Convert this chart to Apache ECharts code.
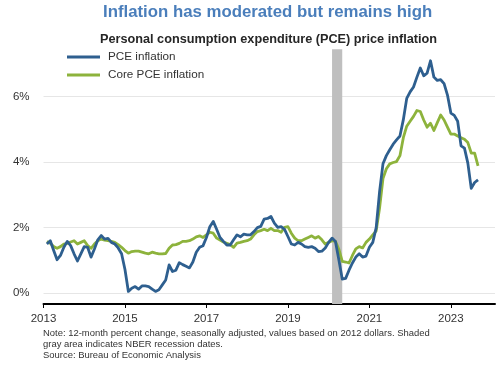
<!DOCTYPE html>
<html><head><meta charset="utf-8">
<script src="https://cdn.jsdelivr.net/npm/echarts@6/dist/echarts.min.js"></script>
<style>html,body{margin:0;padding:0;background:#fff}#c{width:500px;height:365px}</style>
</head><body><div id="c"></div>
<script>
// Monthly series, Jan 2013 .. Aug 2023 (12-month percent change)
const firstYear = 2013;
const pceInflation = [
  1.5, 1.6, 1.3, 1.02, 1.15, 1.4, 1.58, 1.45, 1.2, 0.98, 1.2, 1.42,
  1.4, 1.1, 1.35, 1.63, 1.76, 1.65, 1.67, 1.55, 1.5, 1.38, 1.2, 0.72,
  0.05, 0.15, 0.2, 0.12, 0.22, 0.22, 0.2, 0.12, 0.05, 0.1, 0.25, 0.4,
  0.86, 0.66, 0.7, 0.93, 0.87, 0.82, 0.77, 0.95, 1.25, 1.4, 1.45, 1.7,
  2.03, 2.19, 1.95, 1.7, 1.58, 1.47, 1.47, 1.63, 1.78, 1.72, 1.8, 1.78,
  1.78, 1.88, 2.0, 2.04, 2.26, 2.28, 2.34, 2.14, 2.01, 2.03, 1.95, 1.73,
  1.5, 1.47, 1.55, 1.5, 1.42, 1.4, 1.42, 1.37, 1.27, 1.28, 1.38, 1.55,
  1.68, 1.58, 1.02, 0.43, 0.45, 0.7, 0.92, 1.1, 1.2, 1.1, 1.13, 1.4,
  1.55, 2.0, 3.1, 3.95, 4.2, 4.38, 4.55, 4.68, 4.8, 5.3, 5.95, 6.15,
  6.3, 6.6, 6.88, 6.64, 6.72, 7.1, 6.6, 6.5, 6.52, 6.4, 6.05, 5.5,
  5.43, 5.25, 4.5, 4.43, 3.97, 3.2, 3.38, 3.46
];
const corePceInflation = [
  1.58, 1.52, 1.42, 1.37, 1.42, 1.5, 1.52, 1.56, 1.6, 1.5, 1.55, 1.6,
  1.45, 1.37, 1.5, 1.6, 1.65, 1.62, 1.6, 1.58, 1.55, 1.48, 1.4, 1.3,
  1.22, 1.27, 1.28, 1.28, 1.25, 1.22, 1.2, 1.25, 1.22, 1.2, 1.2, 1.21,
  1.37, 1.47, 1.48, 1.52, 1.58, 1.58, 1.6, 1.65, 1.72, 1.75, 1.7, 1.78,
  1.86, 1.83, 1.68, 1.62, 1.56, 1.52, 1.48, 1.4, 1.53, 1.55, 1.58, 1.6,
  1.65, 1.78, 1.88, 1.91, 1.95, 1.91, 1.98, 1.91, 1.91, 1.86, 2.01, 2.03,
  1.83, 1.68, 1.6, 1.6, 1.65, 1.7, 1.75, 1.68, 1.73, 1.63, 1.5, 1.55,
  1.6, 1.58, 1.34, 0.97, 0.95, 0.92, 1.15, 1.35, 1.42, 1.38, 1.55, 1.65,
  1.78, 1.9, 2.6, 3.5, 3.8, 3.95, 3.99, 4.02, 4.2, 4.75, 5.1, 5.25,
  5.4, 5.58, 5.55, 5.29, 5.07, 5.19, 4.97, 5.21, 5.44, 5.29, 5.07, 4.86,
  4.86, 4.8, 4.75, 4.7, 4.6, 4.28, 4.28, 3.89
];
const seriesNames = ['PCE inflation', 'Core PCE inflation'];
const xTickYears = [2013, 2015, 2017, 2019, 2021, 2023];
const yTickValues = [0, 2, 4, 6];
const recessionStart = [2020, 2]; // Feb 2020
const recessionEnd = [2020, 4];   // Apr 2020

// x coordinate = months since start of firstYear (month-end positions)
const toX = (y, m) => (y - firstYear) * 12 + m;
const pcePts = pceInflation.map((v, i) => [i + 1, v]);
const corePts = corePceInflation.map((v, i) => [i + 1, v]);
const xTicks = xTickYears.map(y => toX(y, 0));

const FONT = "'Liberation Sans', Arial, sans-serif";
const chart = echarts.init(document.getElementById('c'), null, {renderer: 'canvas'});
chart.setOption({
  animation: false,
  textStyle: {fontFamily: FONT},
  title: [
    {text: 'Inflation has moderated but remains high', left: 103, top: 2.5, padding: 0,
     textStyle: {fontFamily: FONT, fontSize: 16.8, fontWeight: 'bold', color: '#4a7ebb', lineHeight: 20}},
    {text: 'Personal consumption expenditure (PCE) price inflation', left: 100, top: 31, padding: 0,
     textStyle: {fontFamily: FONT, fontSize: 12.7, fontWeight: 'bold', color: '#262626', lineHeight: 16}},
    {text: 'Note: 12-month percent change, seasonally adjusted, values based on 2012 dollars. Shaded\ngray area indicates NBER recession dates.\nSource: Bureau of Economic Analysis',
     left: 43, top: 328, padding: 0,
     textStyle: {fontFamily: FONT, fontSize: 9.45, fontWeight: 'normal', color: '#333', lineHeight: 11}}
  ],
  legend: {
    data: seriesNames, orient: 'vertical', left: 67, top: 50, padding: 0,
    icon: 'rect', itemWidth: 33, itemHeight: 3, itemGap: 4,
    textStyle: {fontFamily: FONT, fontSize: 11.7, color: '#333', lineHeight: 14, padding: [0, 0, 0, 3]}
  },
  grid: {left: 43.5, right: 5, top: 49.3, bottom: 61, containLabel: false},
  xAxis: {
    type: 'value', min: 0, max: 133,
    splitLine: {show: false},
    axisLine: {onZero: false, lineStyle: {color: '#000', width: 2}},
    axisTick: {show: true, length: 4, inside: false, customValues: xTicks, lineStyle: {color: '#000', width: 1}},
    axisLabel: {customValues: xTicks, margin: 9, fontSize: 11.5, color: '#333', fontFamily: FONT,
      formatter: v => String(firstYear + Math.round(v / 12))}
  },
  yAxis: {
    type: 'value', min: -1/3, max: 7.45, interval: 1/3,
    axisLine: {show: false}, axisTick: {show: false},
    axisLabel: {customValues: yTickValues, margin: 14, fontSize: 11.5, color: '#333', fontFamily: FONT,
      formatter: v => Math.round(v) + '%'},
    splitLine: {show: true, lineStyle: {width: 1,
      color: ['rgba(0,0,0,0)', '#e6e6e6', 'rgba(0,0,0,0)', 'rgba(0,0,0,0)', 'rgba(0,0,0,0)', 'rgba(0,0,0,0)']}}
  },
  series: [
    {name: seriesNames[0], type: 'line', data: pcePts, color: '#2e5f8f', symbol: 'none', showSymbol: false,
     lineStyle: {width: 2.8, color: '#2e5f8f', join: 'round'}, z: 3,
     markArea: {silent: true, itemStyle: {color: '#bfbfbf'},
       data: [[{xAxis: toX(recessionStart[0], recessionStart[1] - 1)}, {xAxis: toX(recessionEnd[0], recessionEnd[1])}]]}},
    {name: seriesNames[1], type: 'line', data: corePts, color: '#8db33c', symbol: 'none', showSymbol: false,
     lineStyle: {width: 2.8, color: '#8db33c', join: 'round'}, z: 2}
  ]
});
</script></body></html>
